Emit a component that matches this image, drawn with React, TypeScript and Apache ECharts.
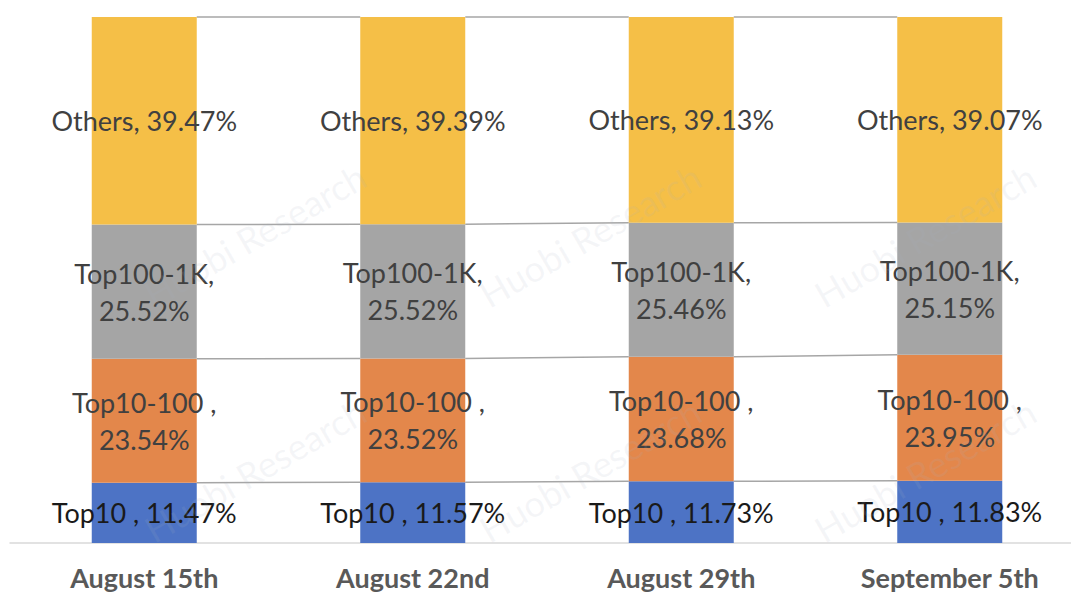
import React, { useEffect, useRef } from "react";
import * as echarts from "echarts";

const categories = ["August 15th", "August 22nd", "August 29th", "September 5th"];
const top10 = [11.47, 11.57, 11.73, 11.83];
const top10to100 = [23.54, 23.52, 23.68, 23.95];
const top100to1k = [25.52, 25.52, 25.46, 25.15];
const others = [39.47, 39.39, 39.13, 39.07];

const BAR_WIDTH = 105;
const FONT = "Lato, 'Open Sans', sans-serif";

export default function App() {
  const ref = useRef<HTMLDivElement>(null);
  useEffect(() => {
    if (!ref.current) return;
    const chart = echarts.init(ref.current, undefined, { renderer: "svg" });

    const levels: number[][] = [];
    const cum1 = top10.map((v) => v);
    const cum2 = top10.map((v, i) => v + top10to100[i]);
    const cum3 = top10.map((v, i) => v + top10to100[i] + top100to1k[i]);
    const cum4 = top10.map((v, i) => v + top10to100[i] + top100to1k[i] + others[i]);
    [cum1, cum2, cum3, cum4].forEach((c) => {
      for (let i = 0; i < c.length - 1; i++) levels.push([i, c[i], c[i + 1]]);
    });

    const labelBase = {
      show: true,
      position: "inside" as const,
      fontFamily: FONT,
      fontSize: 27,
      color: "#404040",
      lineHeight: 37,
    };

    const wmPositions = [
      [255, 235], [590, 235], [925, 235],
      [255, 470], [590, 470], [925, 470],
    ];

    chart.setOption({
      animation: false,
      backgroundColor: "#ffffff",
      grid: { left: 10, right: 0, top: 17, bottom: 51 },
      xAxis: {
        type: "category",
        data: categories,
        axisLine: { lineStyle: { color: "#d9d9d9", width: 1.5 } },
        axisTick: { show: false },
        axisLabel: {
          fontFamily: FONT,
          fontWeight: "bold",
          fontSize: 27,
          lineHeight: 30,
          color: "#595959",
          margin: 19,
        },
      },
      yAxis: { type: "value", min: 0, max: 100, show: false },
      series: [
        {
          name: "Top10",
          type: "bar",
          stack: "a",
          barWidth: BAR_WIDTH,
          data: top10,
          itemStyle: { color: "#4d73c5" },
          label: { ...labelBase, color: "#1a1a1a", formatter: (p: any) => `Top10 , ${p.value.toFixed(2)}%` },
          z: 3,
        },
        {
          name: "Top10-100",
          type: "bar",
          stack: "a",
          barWidth: BAR_WIDTH,
          data: top10to100,
          itemStyle: { color: "#e3874b" },
          label: { ...labelBase, formatter: (p: any) => `Top10-100 ,\n${p.value.toFixed(2)}%` },
          z: 3,
        },
        {
          name: "Top100-1K",
          type: "bar",
          stack: "a",
          barWidth: BAR_WIDTH,
          data: top100to1k,
          itemStyle: { color: "#a5a5a5" },
          label: { ...labelBase, formatter: (p: any) => `Top100-1K,\n${p.value.toFixed(2)}%` },
          z: 3,
        },
        {
          name: "Others",
          type: "bar",
          stack: "a",
          barWidth: BAR_WIDTH,
          data: others,
          itemStyle: { color: "#f5bf47" },
          label: { ...labelBase, formatter: (p: any) => `Others, ${p.value.toFixed(2)}%` },
          z: 3,
        },
        {
          name: "series lines",
          type: "custom",
          data: levels,
          encode: { x: 0, y: 1 },
          silent: true,
          z: 2,
          renderItem: (params: any, api: any) => {
            const i = api.value(0);
            const p1 = api.coord([i, api.value(1)]);
            const p2 = api.coord([i + 1, api.value(2)]);
            return {
              type: "line",
              shape: {
                x1: p1[0] + BAR_WIDTH / 2,
                y1: p1[1],
                x2: p2[0] - BAR_WIDTH / 2,
                y2: p2[1],
              },
              style: { stroke: "#a6a6a6", lineWidth: 1.5 },
            };
          },
        },
      ],
      graphic: wmPositions.map(([x, y]) => ({
        type: "text",
        x,
        y,
        rotation: Math.PI / 6,
        silent: true,
        z: 100,
        style: {
          text: "Huobi Research",
          fontFamily: FONT,
          fontSize: 36,
          fill: "rgba(170,180,195,0.12)",
          align: "center",
          verticalAlign: "middle",
        },
      })),
    });
    return () => chart.dispose();
  }, []);
  return (
    <div style={{ position: "fixed", left: 0, top: 0, width: 1071, height: 594, overflow: "hidden" }}>
      <div ref={ref} style={{ width: 1084, height: 594 }} />
    </div>
  );
}
